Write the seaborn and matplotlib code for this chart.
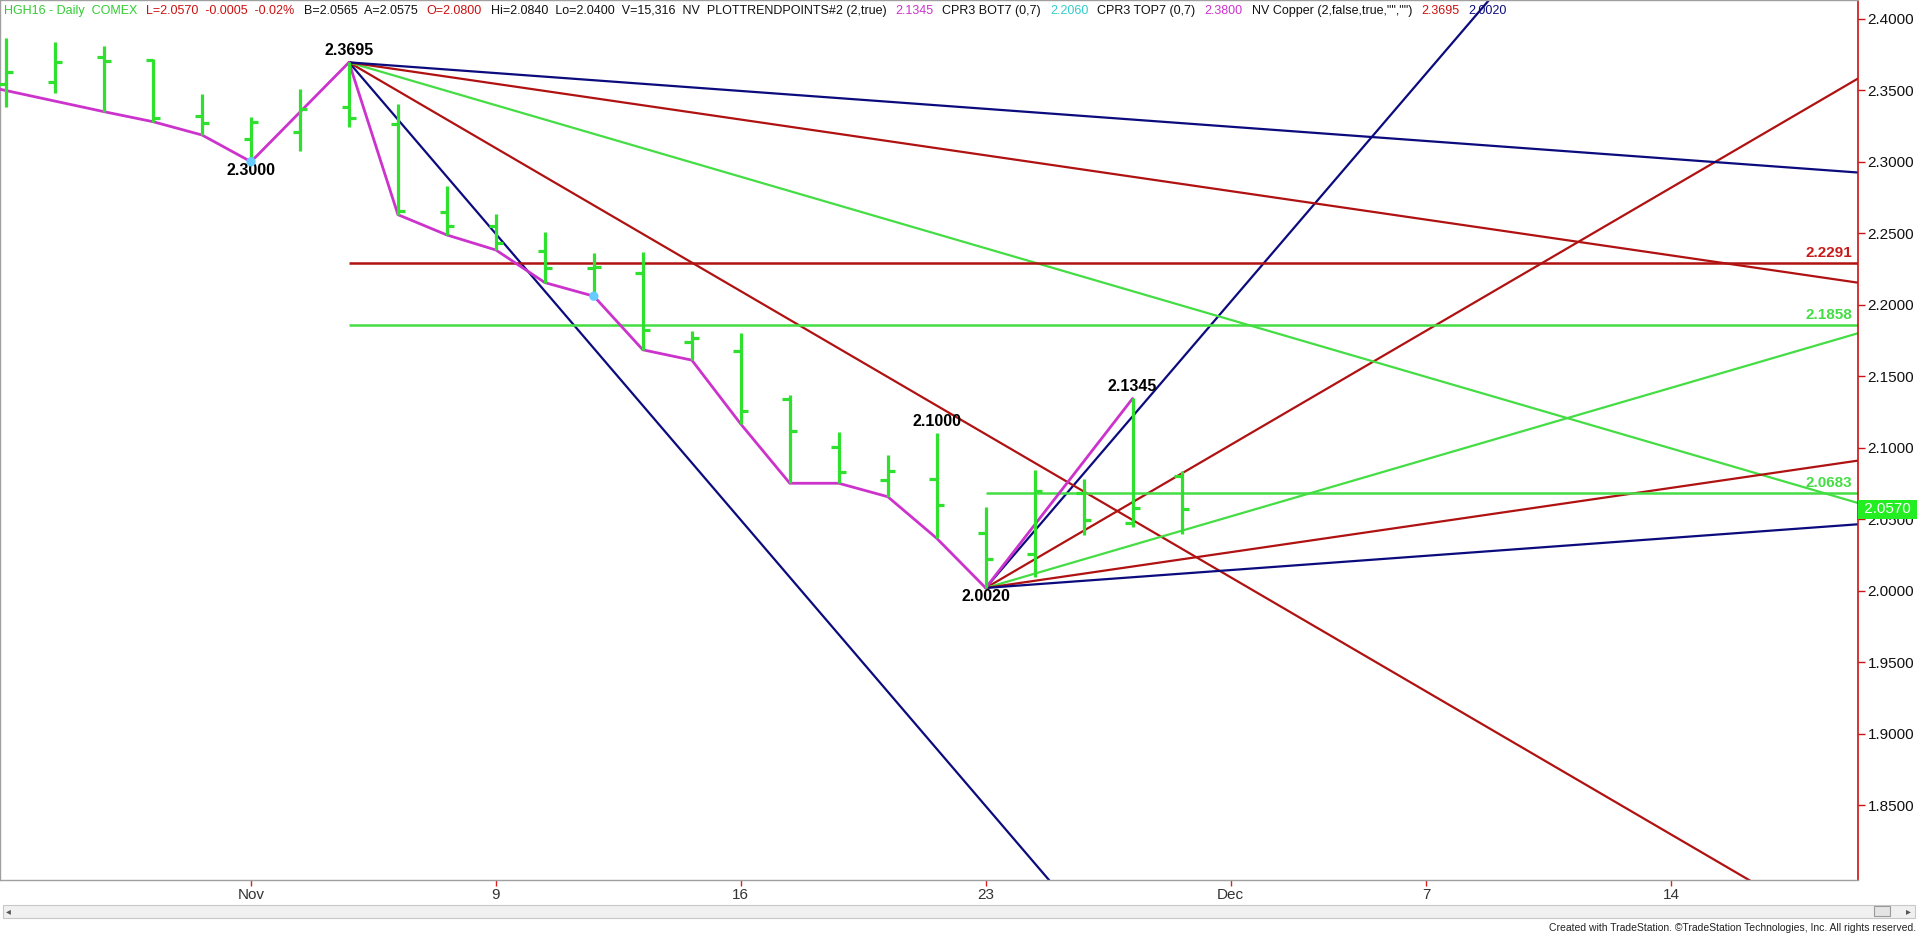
import numpy as np
import pandas as pd
import matplotlib
matplotlib.use('Agg')
import matplotlib.pyplot as plt
import matplotlib.transforms as mtransforms
from matplotlib.patches import Rectangle
import seaborn as sns

# bar index 0 = Nov 2, 2015 (one slot per trading day)
bar_idx = list(range(-5, 20))
opens = [2.3544, 2.3560, 2.3735, 2.3712, 2.3322, 2.3157, 2.3210, 2.3385, 2.3264, 2.2647,
         2.2551, 2.2376, 2.2255, 2.2220, 2.1742, 2.1677, 2.1339, 2.1008, 2.0775, 2.0782,
         2.0402, 2.0257, 2.0686, 2.0476, 2.0800]
highs = [2.3864, 2.3840, 2.3812, 2.3717, 2.3474, 2.3311, 2.3507, 2.3695, 2.3404, 2.2831,
         2.2635, 2.2511, 2.2360, 2.2367, 2.1819, 2.1801, 2.1369, 2.1108, 2.0950, 2.1100,
         2.0588, 2.0845, 2.0780, 2.1345, 2.0840]
lows = [2.3385, 2.3479, 2.3350, 2.3280, 2.3187, 2.3000, 2.3078, 2.3241, 2.2630, 2.2488,
        2.2383, 2.2155, 2.2060, 2.1685, 2.1613, 2.1166, 2.0752, 2.0752, 2.0658, 2.0367,
        2.0020, 2.0099, 2.0390, 2.0446, 2.0400]
closes = [2.3626, 2.3696, 2.3707, 2.3304, 2.3270, 2.3280, 2.3369, 2.3304, 2.2655, 2.2551,
          2.2430, 2.2255, 2.2262, 2.1824, 2.1765, 2.1257, 2.1117, 2.0833, 2.0838, 2.0598,
          2.0220, 2.0698, 2.0495, 2.0581, 2.0570]

# swing / trend points line
trend_idx = [-5.125, -3, -2, -1, 0, 2, 3, 4, 5, 6, 7, 8, 9, 10, 11, 12, 13, 14, 15, 18]
trend_val = [2.3507, 2.3350, 2.3280, 2.3187, 2.3000, 2.3695, 2.2630, 2.2488, 2.2383, 2.2155,
             2.2060, 2.1685, 2.1613, 2.1166, 2.0752, 2.0752, 2.0658, 2.0367, 2.0020, 2.1345]
dot_idx = [0, 7]

# gann fans (price change per bar)
fan_slopes = [0.04, 0.02, 0.01, 0.005, 0.0025]
fan_colors = ['#0b0b7e', '#b01212', '#44dd44', '#b01212', '#0b0b7e']
fan_top_idx, fan_top_val = 2, 2.3695
fan_bot_idx, fan_bot_val = 15, 2.0020

levels = [2.2291, 2.1858, 2.0683]
level_start = [2, 2, 15]
level_colors = ['#b01212', '#44dd44', '#44dd44']
level_text_colors = ['#c81a1a', '#44dd44', '#44dd44']

swing_idx = [2, 0, 14, 15, 18]
swing_text = ['2.3695', '2.3000', '2.1000', '2.0020', '2.1345']
swing_side = ['high', 'low', 'high', 'low', 'high']

xtick_idx = [0, 5, 10, 15, 20, 24, 29]
xtick_labels = ['Nov', '9', '16', '23', 'Dec', '7', '14']
ytick_vals = [1.85, 1.90, 1.95, 2.00, 2.05, 2.10, 2.15, 2.20, 2.25, 2.30, 2.35, 2.40]
last_price = 2.0570

header = [
    ('HGH16 - Daily  COMEX', '#33cc33'),
    ('L=2.0570  -0.0005  -0.02%', '#cc1111'),
    ('B=2.0565  A=2.0575', '#111111'),
    ('O=2.0800', '#cc1111'),
    ('Hi=2.0840  Lo=2.0400  V=15,316  NV  PLOTTRENDPOINTS#2 (2,true)', '#111111'),
    ('2.1345', '#cc33cc'),
    ('CPR3 BOT7 (0,7)', '#111111'),
    ('2.2060', '#33cccc'),
    ('CPR3 TOP7 (0,7)', '#111111'),
    ('2.3800', '#cc33cc'),
    ('NV Copper (2,false,true,"","")', '#111111'),
    ('2.3695', '#cc1111'),
    ('2.0020', '#0b0b7e'),
]

sns.set_theme(style="white")
plt.rcParams['font.family'] = ['Liberation Sans', 'DejaVu Sans']

W, H = 1920, 934
fig = plt.figure(figsize=(W / 100, H / 100), dpi=100)
fig.patch.set_facecolor('white')
ax = fig.add_axes([0, 54 / H, 1858 / W, 880 / H])
ax.set_facecolor('white')

bar_green = '#2fe02f'
idx = np.array(bar_idx, dtype=float)
tick = 0.15
ax.vlines(idx, lows, highs, color=bar_green, lw=2.3, zorder=4)
ax.hlines(opens, idx - tick, idx, color=bar_green, lw=2.3, zorder=4)
ax.hlines(closes, idx, idx + tick, color=bar_green, lw=2.3, zorder=4)

# fans
far = np.array([0, 60])
for s, c in zip(fan_slopes, fan_colors):
    ax.plot(fan_top_idx + far, fan_top_val - s * far, color=c, lw=1.6, zorder=2)
    ax.plot(fan_bot_idx + far, fan_bot_val + s * far, color=c, lw=1.6, zorder=2)

# horizontal levels
blend = mtransforms.blended_transform_factory(ax.transAxes, ax.transData)
for lv, st, c, tc in zip(levels, level_start, level_colors, level_text_colors):
    ax.hlines(lv, st, 40, color=c, lw=1.8, zorder=2)
    ax.annotate(f'{lv:.4f}', xy=(1, lv), xycoords=blend, xytext=(-4, 2),
                textcoords='offset points', ha='right', va='bottom',
                color=tc, fontsize=11, fontweight='bold', zorder=6)

# trend line
trend_df = pd.DataFrame({'bar': trend_idx, 'price': trend_val})
sns.lineplot(data=trend_df, x='bar', y='price', sort=False, estimator=None,
             color='#cc33cc', lw=2.0, ax=ax, zorder=3)
dot_df = pd.DataFrame({'bar': dot_idx, 'price': [lows[bar_idx.index(i)] for i in dot_idx]})
sns.scatterplot(data=dot_df, x='bar', y='price', color='#66ccff', s=45,
                edgecolor='none', ax=ax, zorder=5)

# swing labels
for i, t, side in zip(swing_idx, swing_text, swing_side):
    k = bar_idx.index(i)
    if side == 'high':
        ax.annotate(t, xy=(i, highs[k]), xytext=(0, 3), textcoords='offset points',
                    ha='center', va='bottom', fontsize=11.5, fontweight='bold', color='black')
    else:
        ax.annotate(t, xy=(i, lows[k]), xytext=(0, -1), textcoords='offset points',
                    ha='center', va='top', fontsize=11.5, fontweight='bold', color='black')

ax.set_xlim(-5.125, 32.81)
ax.set_ylim(1.7978, 2.4131)
ax.set_xlabel('')
ax.set_ylabel('')

ax.set_xticks(xtick_idx)
ax.set_xticklabels(xtick_labels, family=['Liberation Sans Narrow', 'Liberation Sans'],
                   fontsize=11, color='#333333')
ax.tick_params(axis='x', bottom=True, direction='out', length=4, width=1,
               color='#dd2222', pad=2)
ax.yaxis.tick_right()
ax.set_yticks(ytick_vals)
ax.set_yticklabels([f'{v:.4f}' for v in ytick_vals], fontsize=11, color='#111111')
ax.tick_params(axis='y', right=True, left=False, direction='out', length=5, width=1,
               color='#cc1111', pad=2)
ax.grid(False)
for side in ['left', 'top', 'bottom']:
    ax.spines[side].set_color('#a0a0a0')
    ax.spines[side].set_linewidth(1)
ax.spines['right'].set_color('#cc1111')
ax.spines['right'].set_linewidth(1.2)

# last price marker on the axis
ax.annotate(f' {last_price:.4f} ', xy=(1, last_price), xycoords=blend, xytext=(1.5, 0),
            textcoords='offset points', ha='left', va='center', fontsize=11,
            color='white', annotation_clip=False, zorder=10,
            bbox=dict(boxstyle='square,pad=0.15', facecolor='#22ee22', edgecolor='none'))

# header row
renderer = fig.canvas.get_renderer()
x_px = 4
for txt, col in header:
    t = fig.text(x_px / W, 1 - 11 / H, txt, color=col, fontsize=9, ha='left', va='center')
    bb = t.get_window_extent(renderer=renderer)
    x_px = bb.x1 + 9

# scrollbar + footer
fig.patches.append(Rectangle((3 / W, (H - 918) / H), 1912 / W, 13 / H, transform=fig.transFigure,
                             facecolor='#f0f0f0', edgecolor='#c8c8c8', lw=0.8))
fig.patches.append(Rectangle((1874 / W, (H - 916) / H), 16 / W, 10 / H, transform=fig.transFigure,
                             facecolor='#e4e4e4', edgecolor='#9a9a9a', lw=0.8))
fig.text(8 / W, 1 - 911 / H, '\u25c2', fontsize=7, color='#555555', ha='center', va='center',
         family=['DejaVu Sans'])
fig.text(1908 / W, 1 - 911 / H, '\u25b8', fontsize=7, color='#555555', ha='center', va='center',
         family=['DejaVu Sans'])
fig.text(1916 / W, 1 - 928 / H,
         'Created with TradeStation. \u00a9TradeStation Technologies, Inc. All rights reserved.',
         fontsize=7.5, color='#222222', ha='right', va='center',
         family=['Liberation Sans Narrow', 'Liberation Sans'])

fig.savefig('out.png', dpi=100, facecolor='white')
